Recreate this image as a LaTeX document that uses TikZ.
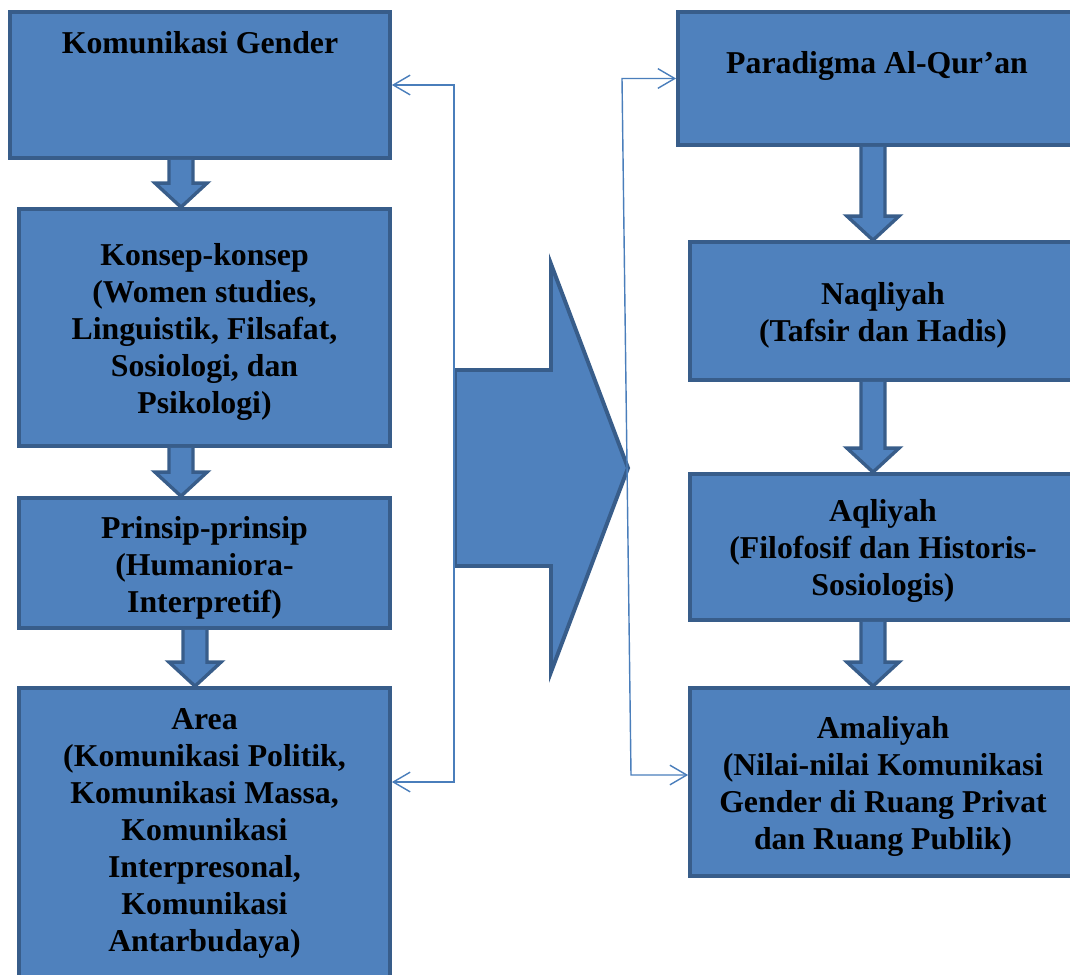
\documentclass[tikz,border=0pt]{standalone}
\usepackage{fontspec}
\setmainfont{Liberation Serif}
\usepackage{tikz}
\usetikzlibrary{arrows.meta, calc}
\definecolor{boxfill}{RGB}{79, 129, 189}
\definecolor{boxline}{RGB}{56, 93, 138}
\definecolor{linkblue}{RGB}{74, 126, 187}

% extra room above the first line, pushes the text a bit down
\newcommand{\topgap}{\rule{0pt}{22pt}}

% block arrow from the bottom of one box to the top of the next
\newcommand{\flowarrow}[3]{%
  \filldraw[flowarr]
    ($(#1.south -| #3,0)+(-12,0)$) -- ($(#2.north -| #3,0)+(-12,-24)$)
    -- ($(#2.north -| #3,0)+(-26,-24)$) -- (#2.north -| #3,0)
    -- ($(#2.north -| #3,0)+(26,-24)$) -- ($(#2.north -| #3,0)+(12,-24)$)
    -- ($(#1.south -| #3,0)+(12,0)$);
}

\begin{document}
\begin{tikzpicture}[x=0.025cm, y=-0.025cm,
    box/.style={draw=boxline, fill=boxfill, line width=2.6pt, align=center,
                inner sep=0pt, font=\fontsize{22.6pt}{26.3pt}\selectfont\bfseries},
    flowarr/.style={draw=boxline, fill=boxfill, line width=2.4pt, line join=miter},
    link/.style={draw=linkblue, line width=1pt,
                 {Straight Barb[length=12pt,width=14pt]}-{Straight Barb[length=12pt,width=14pt]}}]
  \useasboundingbox (0,0) rectangle (1070,974);
  \clip (0,0) rectangle (1070,974);

  % left column
  \node[box, minimum width=9.5cm, minimum height=3.65cm] (kg) at (200,85)
    {Komunikasi Gender\\[34pt]\mbox{}};
  \node[box, minimum width=9.275cm, minimum height=5.925cm] (ks) at (204.5,327.5)
    {\topgap Konsep-konsep\\(Women studies,\\Linguistik, Filsafat,\\Sosiologi, dan\\Psikologi)};
  \node[box, minimum width=9.275cm, minimum height=3.25cm] (pp) at (204.5,563)
    {\topgap Prinsip-prinsip\\(Humaniora-\\Interpretif)};
  \node[box, minimum width=9.275cm, minimum height=7.25cm] (ar) at (204.5,833)
    {Area\\(Komunikasi Politik,\\Komunikasi Massa,\\Komunikasi\\Interpresonal,\\Komunikasi\\Antarbudaya)};

  % right column
  \node[box, minimum width=9.95cm, minimum height=3.325cm] (pa) at (877,78.5)
    {Paradigma Al-Qur’an\\[-3pt]\mbox{}};
  \node[box, minimum width=9.65cm, minimum height=3.45cm] (nq) at (883,311)
    {\topgap Naqliyah\\(Tafsir dan Hadis)};
  \node[box, minimum width=9.65cm, minimum height=3.65cm] (aq) at (883,547)
    {\topgap Aqliyah\\(Filofosif dan Historis-\\Sosiologis)};
  \node[box, minimum width=9.65cm, minimum height=4.7cm] (am) at (883,782)
    {\topgap Amaliyah\\(Nilai-nilai Komunikasi\\Gender di Ruang Privat\\dan Ruang Publik)};

  \flowarrow{kg}{ks}{181}
  \flowarrow{ks}{pp}{181}
  \flowarrow{pp}{ar}{195}
  \flowarrow{pa}{nq}{873}
  \flowarrow{nq}{aq}{873}
  \flowarrow{aq}{am}{873}

  % big arrow in the middle
  \filldraw[flowarr, line width=2.8pt] (455,370) -- (551,370) -- (551,264) -- (628,468)
    -- (551,672) -- (551,566) -- (455,566) -- cycle;

  % thin links
  \draw[link] (kg.east) -| (454,782) -- (ar.east |- 0,782);
  \draw[link] (pa.west) -- (pa.west -| 622,0) -- (631,775) -- (am.west |- 0,775);
\end{tikzpicture}
\end{document}
